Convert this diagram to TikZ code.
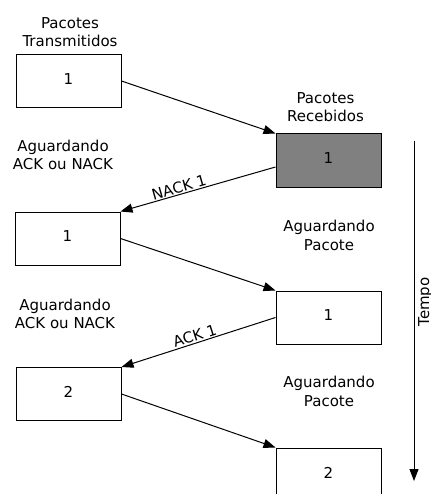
\documentclass[tikz,border=0pt]{standalone}
\usepackage{fontspec}
\setmainfont{DejaVu Sans}
\usetikzlibrary{arrows.meta}
\begin{document}
\begin{tikzpicture}[x=1pt,y=-1pt,
  txt/.style={font=\fontsize{15}{18.5}\selectfont},
  pkt/.style={txt, draw, line width=1pt, minimum width=105pt, minimum height=53pt, inner sep=0pt, text depth=4pt},
  rcvd/.style={pkt, fill=gray},
  msg/.style={line width=1pt, -{Triangle[length=12pt,width=9pt]}},
  lbl/.style={txt, align=center, inner sep=0pt, anchor=north},
  msglbl/.style={txt, sloped, anchor=south, inner sep=1pt}]
\clip (0,0) rectangle (430,494);

% labels
\node[lbl] (lt) at (70,17) {Pacotes\\Transmitidos};
\node[lbl] (lr) at (325.5,92) {Pacotes\\Recebidos};
\node[lbl] (w1) at (63,139.5) {Aguardando\\ACK ou NACK};
\node[lbl] (p1) at (329,220) {Aguardando\\Pacote};
\node[lbl] (w2) at (65,298.5) {Aguardando\\ACK ou NACK};
\node[lbl] (p2) at (329,376) {Aguardando\\Pacote};

% packets
\node[pkt]  (t1) at (68.5,81)    {1};
\node[rcvd] (r1) at (328.5,160.5) {1};
\node[pkt]  (t2) at (67.5,238.5) {1};
\node[pkt]  (r2) at (328.5,317.5) {1};
\node[pkt]  (t3) at (68.5,394)   {2};
\node[pkt]  (r3) at (328.5,474.5) {2};

% messages
\draw[msg] (t1.east) -- (r1.north west);
\draw[msg] ([yshift=-6.5pt]r1.west) -- node[msglbl, pos=0.61] (nack) {NACK 1} (t2.north east);
\draw[msg] (t2.east) -- (r2.north west);
\draw[msg] (r2.west) -- node[msglbl, pos=0.51] (ack) {ACK 1} (t3.north east);
\draw[msg] (t3.east) -- (r3.north west);

% time axis
\coordinate (ts) at (414,141);
\coordinate (te) at (414,481);
\draw[msg] (ts) -- (te);
\node[txt, rotate=90, anchor=base, inner sep=0pt] (tempo) at (429,302) {Tempo};
\end{tikzpicture}
\end{document}
